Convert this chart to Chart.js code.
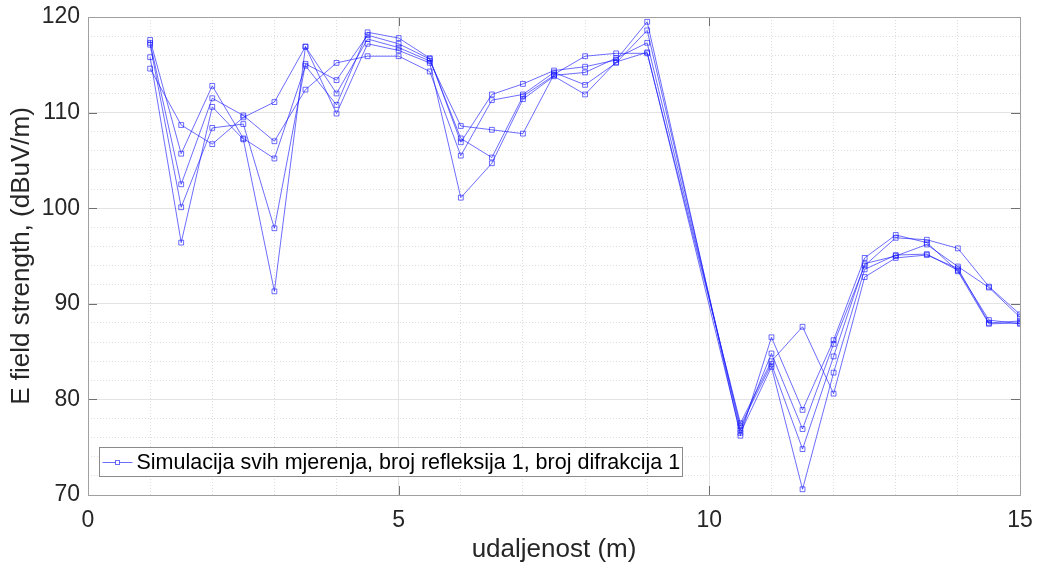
<!DOCTYPE html>
<html>
<head>
<meta charset="utf-8">
<script src="https://cdn.jsdelivr.net/npm/chart.js@4.4.1/dist/chart.umd.min.js"></script>
<style>
  html, body { margin: 0; padding: 0; background: #fff; }
  #wrap { width: 1038px; height: 570px; position: relative; }
</style>
</head>
<body>
<div id="wrap"><canvas id="chart" width="1038" height="570"></canvas></div>
<script>
// distances (m)
const distances = [1, 1.5, 2, 2.5, 3, 3.5, 4, 4.5, 5, 5.5, 6, 6.5, 7, 7.5, 8, 8.5, 9, 10.5, 11, 11.5, 12, 12.5, 13, 13.5, 14, 14.5, 15];

// simulated field strength per measurement run (dBuV/m)
const run1 = [114.6, 108.7, 106.7, 109.5, 111.1, 116.9, 112.0, 117.7, 116.8, 115.4, 108.6, 108.2, 107.8, 114.0, 115.9, 116.2, 116.2, 77.5, 84.0, 87.6, 80.6, 92.8, 94.8, 95.1, 93.7, 88.0, 88.2];
const run2 = [117.6, 105.7, 112.8, 107.3, 105.2, 114.9, 110.8, 118.4, 117.8, 115.7, 106.9, 111.9, 113.0, 114.4, 114.8, 115.5, 119.5, 76.2, 86.5, 78.9, 86.2, 94.8, 97.2, 96.4, 93.4, 87.9, 88.0];
const run3 = [117.3, 102.5, 111.5, 109.7, 107.0, 112.4, 115.2, 115.9, 115.9, 114.3, 105.5, 111.3, 111.9, 114.2, 112.9, 115.2, 118.6, 76.8, 84.8, 76.9, 85.8, 94.0, 96.9, 96.7, 95.8, 91.8, 88.9];
const run4 = [117.1, 100.1, 108.4, 108.8, 97.9, 115.1, 113.4, 118.1, 117.2, 115.6, 107.3, 105.3, 111.7, 113.9, 114.2, 115.7, 117.3, 77.2, 83.7, 74.8, 84.5, 94.2, 95.0, 96.2, 93.9, 91.7, 88.6];
const run5 = [115.8, 96.4, 110.6, 107.2, 91.3, 116.9, 109.9, 117.2, 116.5, 115.2, 101.1, 104.7, 111.4, 113.8, 111.9, 115.3, 116.3, 76.5, 83.4, 70.6, 82.8, 93.6, 95.1, 95.2, 93.5, 88.3, 87.9];
const runs = [run1, run2, run3, run4, run5];

const xTicks = [0, 5, 10, 15];
const yTicks = [70, 80, 90, 100, 110, 120];
const legendLabel = 'Simulacija svih mjerenja, broj refleksija 1, broj difrakcija 1';

const lineColor = 'rgba(20, 20, 255, 0.62)';
const FONT = '"Liberation Sans", Arial, sans-serif';

const datasets = runs.map((r, i) => ({
  label: i === 0 ? legendLabel : 'run' + (i + 1),
  data: distances.map((d, j) => ({ x: d, y: r[j] })),
  showLine: true,
  borderColor: lineColor,
  borderWidth: 1,
  pointStyle: 'rect',
  pointRadius: 3.4,
  pointBorderWidth: 1,
  pointBorderColor: lineColor,
  pointBackgroundColor: 'rgba(255,255,255,0)',
  tension: 0
}));

// box, inward ticks and legend drawn MATLAB style
const matlabBits = {
  id: 'matlabBits',
  afterDatasetsDraw(chart) {
    const { ctx, chartArea: a, scales } = chart;
    ctx.save();
    ctx.strokeStyle = '#707070';
    ctx.lineWidth = 1;
    const tl = 9;
    ctx.beginPath();
    xTicks.forEach(t => {
      const px = Math.round(scales.x.getPixelForValue(t)) + 0.5;
      ctx.moveTo(px, a.bottom); ctx.lineTo(px, a.bottom - tl);
      ctx.moveTo(px, a.top); ctx.lineTo(px, a.top + tl);
    });
    yTicks.forEach(t => {
      const py = Math.round(scales.y.getPixelForValue(t)) + 0.5;
      ctx.moveTo(a.left, py); ctx.lineTo(a.left + tl, py);
      ctx.moveTo(a.right, py); ctx.lineTo(a.right - tl, py);
    });
    ctx.stroke();
    ctx.strokeStyle = '#a0a0a0';
    ctx.strokeRect(Math.round(a.left) + 0.5, Math.round(a.top) + 0.5, Math.round(a.right - a.left), Math.round(a.bottom - a.top));

    // legend box
    const lx = Math.round(a.left) + 11.5, ly = Math.round(a.bottom) - 47.5, lw = 583, lh = 29;
    ctx.fillStyle = '#fff';
    ctx.fillRect(lx, ly, lw, lh);
    ctx.strokeStyle = '#8a8a8a';
    ctx.strokeRect(lx, ly, lw, lh);
    const cy = Math.round(ly + lh / 2) + 0.5;
    ctx.strokeStyle = lineColor;
    ctx.beginPath();
    ctx.moveTo(lx + 3, cy); ctx.lineTo(lx + 33, cy);
    ctx.stroke();
    ctx.fillStyle = '#fff';
    ctx.fillRect(lx + 16, cy - 2, 4, 4);
    ctx.strokeRect(lx + 16, cy - 2, 4, 4);
    ctx.fillStyle = '#000';
    ctx.font = '21.5px ' + FONT;
    ctx.textBaseline = 'middle';
    ctx.fillText(legendLabel, lx + 37, cy + 1);
    ctx.restore();
  }
};

new Chart(document.getElementById('chart'), {
  type: 'scatter',
  data: { datasets },
  options: {
    responsive: false,
    animation: false,
    layout: { padding: { top: 17, right: 18, left: 0, bottom: 0 } },
    plugins: { legend: { display: false }, tooltip: { enabled: false } },
    scales: {
      xMinor: {
        type: 'linear', position: 'bottom', min: 0, max: 15,
        ticks: { display: false, stepSize: 1 },
        grid: { color: 'rgba(0,0,0,0.13)', drawTicks: false },
        border: { display: false, dash: [1, 2] },
        afterFit: s => { s.height = 0; s.paddingLeft = 0; s.paddingRight = 0; }
      },
      yMinor: {
        type: 'linear', position: 'left', min: 70, max: 120,
        ticks: { display: false, stepSize: 2 },
        grid: { color: 'rgba(0,0,0,0.13)', drawTicks: false },
        border: { display: false, dash: [1, 2] },
        afterFit: s => { s.width = 0; s.paddingTop = 0; s.paddingBottom = 0; }
      },
      x: {
        type: 'linear', min: 0, max: 15,
        afterBuildTicks: s => { s.ticks = xTicks.map(v => ({ value: v })); },
        ticks: { color: '#262626', font: { family: FONT, size: 23 }, padding: 12, maxRotation: 0 },
        grid: { color: '#e3e3e3', drawTicks: false },
        border: { display: false },
        title: { display: true, text: 'udaljenost (m)', color: '#262626', font: { family: FONT, size: 26 }, padding: { top: 4, bottom: 5 } },
        afterFit: s => { s.height = 75; s.paddingLeft = 0; s.paddingRight = 0; }
      },
      y: {
        type: 'linear', min: 70, max: 120,
        afterBuildTicks: s => { s.ticks = yTicks.map(v => ({ value: v })); },
        ticks: { color: '#262626', font: { family: FONT, size: 23 }, padding: 8 },
        grid: { color: '#e3e3e3', drawTicks: false },
        border: { display: false },
        title: { display: true, text: 'E field strength, (dBuV/m)', color: '#262626', font: { family: FONT, size: 26 }, padding: { top: 6, bottom: 6 } },
        afterFit: s => { s.width = 88; s.paddingTop = 0; s.paddingBottom = 0; }
      }
    }
  },
  plugins: [matlabBits]
});
</script>
</body>
</html>
